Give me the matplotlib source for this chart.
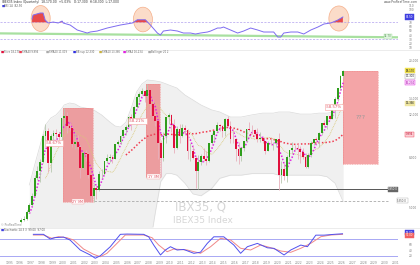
import numpy as np
import pandas as pd
import matplotlib
matplotlib.use("Agg")
import matplotlib.pyplot as plt
from matplotlib.patches import Rectangle, Ellipse
from matplotlib.lines import Line2D
from matplotlib.ticker import FixedLocator, FuncFormatter

plt.rcParams['font.family'] = ['DejaVu Sans']

# ------------------------------------------------------------------ data
start_year = 1996
first_open = 4380
closes = [4450, 4520, 4800, 5150, 5600, 6650, 7100, 7700, 9800, 10300, 7600, 9837,
          10100, 10000, 9700, 11641, 11900, 10800, 10650, 9110, 9300, 8900, 7300, 8397,
          8300, 6800, 5600, 6037, 5900, 6860, 6900, 7737, 8000, 8100, 7900, 9081,
          9300, 9800, 10400, 10733, 11800, 11500, 12900, 14146, 14600, 15000, 14300, 15182,
          13300, 11900, 11300, 9195, 8000, 9800, 11750, 11940, 10870, 8800, 10500, 9859,
          10580, 10360, 8550, 8566, 8000, 7100, 7700, 8167, 7920, 7760, 9190, 9917,
          10340, 10920, 10830, 10280, 11520, 10770, 9560, 9544, 8720, 8160, 8780, 9352,
          10460, 10440, 10380, 10043, 9600, 9620, 9390, 8540, 9240, 9200, 9240, 9549,
          6785, 7230, 6720, 8073, 8580, 8820, 8800, 8713, 8445, 8100, 7370, 8229,
          9230, 9590, 9430, 10102, 11075, 10940, 11880, 11595, 13135, 13990, 15475, 17300,
          18170]
highs = [4560, 4650, 4880, 5250, 5750, 6800, 7400, 7900, 10000, 10980, 10600, 10000,
         10450, 10500, 10200, 11700, 12816, 12300, 11200, 10800, 10100, 9900, 9000, 8500,
         8600, 8400, 6900, 6300, 6200, 7100, 7200, 7800, 8300, 8300, 8200, 9100,
         9500, 9950, 10500, 10900, 11900, 12100, 13000, 14300, 14900, 15500, 15200, 16040,
         15200, 14000, 12300, 11300, 9500, 10200, 11800, 12200, 12100, 11500, 10800, 11000,
         11000, 10900, 10500, 9200, 9000, 8200, 8200, 8300, 8800, 8500, 9200, 10100,
         10400, 11250, 11000, 10900, 11600, 11880, 11300, 10600, 9600, 9300, 8900, 9400,
         10500, 11180, 10900, 10500, 10600, 10200, 9800, 9400, 9400, 9550, 9300, 9600,
         10100, 7800, 7600, 8200, 8600, 9300, 9000, 9200, 8950, 8750, 8400, 8400,
         9400, 9600, 9700, 10200, 11100, 11400, 11900, 12000, 13350, 14200, 15500, 17400,
         18300]
lows = [4340, 4400, 4450, 4780, 5100, 5550, 6500, 6400, 7600, 9400, 7000, 7000,
        9300, 9600, 9200, 9400, 10900, 10100, 10300, 8900, 8700, 8700, 6600, 7200,
        7800, 6600, 5300, 5266, 5450, 5850, 6600, 6800, 7600, 7700, 7600, 7900,
        9000, 9100, 9700, 9900, 10700, 10400, 11300, 12800, 13600, 14500, 13500, 14000,
        12000, 11700, 10800, 7900, 6702, 7800, 9200, 11000, 10200, 8400, 8700, 9200,
        9700, 9900, 7900, 7800, 7900, 6000, 5950, 7500, 7800, 7500, 7700, 9100,
        9400, 10200, 10300, 9700, 9800, 10700, 9200, 9200, 7750, 7580, 7800, 8500,
        9300, 10300, 10000, 9950, 9300, 9300, 9200, 8300, 8500, 9000, 8600, 8900,
        5900, 6300, 6500, 6400, 7800, 8400, 8500, 7900, 7600, 7900, 7300, 7250,
        8100, 9000, 9100, 8900, 9900, 10700, 10500, 11500, 11500, 11600, 13700, 15200,
        17000]

# Bollinger-type envelope (year, value)
band_years = [1996.875, 1997.375, 1997.875, 1998.375, 1998.875, 1999.375, 1999.875, 2000.125,
              2000.625, 2001.125, 2001.625, 2002.125, 2002.875, 2003.625, 2004.375, 2004.875,
              2005.375, 2005.875, 2006.375, 2006.875, 2007.375, 2007.875, 2008.625, 2009.125,
              2009.625, 2010.125, 2010.625, 2011.375, 2012.125, 2012.875, 2013.875, 2014.625,
              2015.625, 2016.625, 2017.625, 2018.625, 2019.625, 2020.125, 2021.125, 2022.125,
              2023.125, 2023.875, 2024.625, 2025.375, 2026.125]
band_upper = [6200, 7500, 9000, 10900, 11650, 12000, 12700, 13170,
              13420, 13300, 12920, 12800, 12570, 11980, 11220, 10800,
              10700, 11200, 12800, 14900, 16060, 16670, 16520, 16360,
              16060, 15750, 15460, 14470, 13810, 13170, 12570, 12330,
              11760, 11760, 12000, 12200, 12200, 12330, 12330, 12090,
              12090, 12200, 12200, 12330, 12330]
band_lower = [3000, 3000, 3000, 3000, 3000, 3000, 3000, 3000,
              3000, 3000, 3000, 3000, 3000, 3000, 3000, 3000,
              3000, 3000, 3000, 3000, 3000, 3000, 4800, 6400,
              6900, 6900, 6800, 6300, 5700, 5600, 6000, 6600,
              6800, 6800, 6900, 6900, 6900, 6800, 6800, 6800,
              6800, 6800, 6700, 6300, 5300]

support_level = 5950
prior_low_level = 5350

dd_start = [2000.0, 2007.78, 2026.1]
dd_end = [2002.77, 2009.09, 2029.37]
dd_top = [12816, 16040, 18170]
dd_pct = [58.67, 58.21, 58.57]
dd_duration = ["2Y 9M", "1Y 3M", ""]
pct_label_year = [1999.2, 2006.95, 2025.25]
pct_label_value = [9180, 11340, 12900]

rsi_years = [1997.13, 1997.22, 1997.88, 1998.16, 1998.35, 1998.63, 1999.1, 1999.56, 1999.93,
             2000.03, 2000.68, 2001.34, 2002.27, 2002.55, 2003.2, 2004.14, 2005.35, 2006.48,
             2006.94, 2007.69, 2008.16, 2008.81, 2009.09, 2009.37, 2010.03, 2010.68, 2011.24,
             2011.9, 2012.36, 2012.83, 2013.48, 2013.77, 2014.42, 2014.7, 2014.98, 2015.63,
             2016.29, 2016.85, 2017.5, 2018.16, 2018.72, 2019.19, 2019.65, 2020.03, 2020.31,
             2020.59, 2021.25, 2021.9, 2022.46, 2023.11, 2023.77, 2024.33, 2024.98, 2025.63,
             2026.1]
rsi_vals = [77.8, 87, 91.9, 91.9, 75.4, 68.4, 70.7, 68.4, 73,
            68.4, 63.6, 51.9, 44.8, 47.2, 49.5, 56.6, 63.6, 68.4,
            76, 76, 63.6, 44.8, 40.1, 49.5, 51.9, 49.5, 44.8,
            44.8, 42.5, 44.8, 47.2, 49.5, 56.6, 56.6, 58.9, 51.9,
            44.8, 49.5, 56.6, 51.9, 47.2, 47.2, 47.2, 35.4, 35.4,
            44.8, 47.2, 47.2, 42.5, 51.9, 58.9, 66, 68.4, 75.4,
            82.5]
rsi_trend = [44.0, 34.7]
rsi_highlight = [(1997.93, 79, 1.78, 61), (2007.46, 76.6, 1.78, 58), (2025.73, 79, 1.87, 59)]

sto_k_years = [1997.25, 1998.19, 1998.81, 1999.28, 2000.06, 2000.68, 2001.62, 2002.55, 2003.02,
               2003.49, 2004.42, 2005.36, 2005.98, 2007.53, 2008.0, 2008.47, 2009.1, 2009.56,
               2010.03, 2010.65, 2011.27, 2012.21, 2012.83, 2013.46, 2014.07, 2015.0, 2015.94,
               2016.57, 2017.2, 2018.13, 2019.07, 2019.68, 2020.62, 2021.24, 2022.18, 2022.8,
               2023.58, 2024.36, 2025.29, 2026.07]
sto_k = [97, 97, 80, 85, 87, 76, 40, 22, 10,
         19, 52, 97, 98, 97, 88, 58, 22, 40,
         52, 40, 42, 28, 32, 64, 88, 88, 58,
         28, 52, 64, 48, 46, 22, 40, 58, 52,
         94, 94, 97, 99]
sto_d_years = [1997.25, 1998.19, 1998.97, 1999.59, 2000.37, 2000.99, 2001.93, 2002.86, 2003.49,
               2004.11, 2005.05, 2005.82, 2007.53, 2008.32, 2008.93, 2009.72, 2010.34, 2011.59,
               2012.83, 2013.77, 2014.7, 2015.64, 2016.57, 2017.5, 2018.44, 2019.37, 2020.31,
               2021.24, 2022.18, 2023.11, 2024.05, 2024.98, 2026.07]
sto_d = [94.5, 94.5, 82.5, 88.4, 84.7, 76.4, 43.6, 24.4, 15.6,
         28, 64.4, 94.5, 94.5, 84.7, 58.2, 33.8, 43.6, 40,
         28, 52, 82.5, 76.4, 46.2, 40, 58.2, 48.4, 36.4,
         31.6, 46.2, 64.4, 88.4, 94.5, 97]

year_ticks = list(range(1995, 2032))
main_ticks = [5000, 6000, 8000, 10000, 12000, 14000, 16000, 18000, 20000]
rsi_ticks = list(range(10, 111, 10))
sto_ticks = [20, 40, 60, 80, 100]

# ------------------------------------------------------------------ derived
n = len(closes)
qx = start_year + np.arange(n) * 0.25 + 0.125
opens = [first_open] + closes[:-1]
s = pd.Series(closes, dtype=float)
sma4 = s.rolling(4).mean()
sma10 = s.rolling(10).mean()
sma20 = s.rolling(20).mean()
sma40 = s.rolling(40).mean()

# ------------------------------------------------------------------ figure
W, H = 420, 265
fig = plt.figure(figsize=(W / 100, H / 100), dpi=100)
fig.patch.set_facecolor('white')


def rect(x0, y0, x1, y1):
    return [x0 / W, 1 - y1 / H, (x1 - x0) / W, (y1 - y0) / H]


ax_rsi = fig.add_axes(rect(0, 2, 398, 48.5))
ax = fig.add_axes(rect(0, 54, 398, 227))
ax_sto = fig.add_axes(rect(0, 228, 398, 259))
XL = (1994.14, 2031.24)
for a in (ax_rsi, ax, ax_sto):
    a.set_xlim(*XL)
    for sp in a.spines.values():
        sp.set_visible(False)
    a.yaxis.tick_right()
    a.tick_params(axis='y', length=0, labelsize=2.1, labelcolor='#777777', pad=8)
    a.tick_params(axis='x', length=0, labelsize=2.2, labelcolor='#888888', pad=1.5)
    a.set_xticks(year_ticks)
    a.set_facecolor('none')
ax_rsi.set_xticklabels([])
ax.set_xticklabels([])
ax_sto.set_xticklabels([str(y) for y in year_ticks])

for yy in (49.5, 227.5):
    fig.add_artist(Line2D([0, 1], [1 - yy / H] * 2, color='#e4e4e4', lw=0.5))

# ------------------------------------------------------------------ main panel
ax.set_yscale('log')
ax.set_ylim(4173, 21290)
main_boxes = [closes[-1], closes[-2], sma4.iloc[-1], sma10.iloc[-1], sma40.iloc[-1],
              support_level, prior_low_level]
px_per_decade = 173 / np.log10(21290 / 4173)
main_ticks_vis = [t for t in main_ticks
                  if min(abs(np.log10(t / b)) * px_per_decade for b in main_boxes) > 4]
ax.yaxis.set_major_locator(FixedLocator(main_ticks_vis))
ax.yaxis.set_minor_locator(FixedLocator([]))
ax.yaxis.set_major_formatter(FuncFormatter(lambda v, p: f"{v:,.0f}"))

# watermark
ax.text(0.505, 0.116, "IBX35, Q", transform=ax.transAxes, fontsize=8.5, color='#d6d6d6',
        ha='center', va='center', zorder=0)
ax.text(0.51, 0.040, "IBEX35 Index", transform=ax.transAxes, fontsize=6.5, color='#d6d6d6',
        ha='center', va='center', zorder=0)

# band
ax.fill_between(band_years, band_lower, band_upper, color='#f0f0f0', lw=0, zorder=0.5)
ax.plot(band_years, band_upper, color='#dadada', lw=0.5, zorder=0.6)
ax.plot(band_years, band_lower, color='#dadada', lw=0.5, zorder=0.6)

# drawdown boxes
for x0, x1, top, pct, dur in zip(dd_start, dd_end, dd_top, dd_pct, dd_duration):
    bot = top * (1 - pct / 100)
    ax.add_patch(Rectangle((x0, bot), x1 - x0, top - bot, facecolor='#e8383d', alpha=0.45,
                           edgecolor='none', zorder=1))
    ax.add_patch(Rectangle((x0, bot), x1 - x0, top - bot, facecolor='none',
                           edgecolor='#f08a8a', lw=0.4, ls=(0, (2, 1)), zorder=1.1))
    if dur:
        ax.text((x0 + x1) / 2, bot, dur, fontsize=2.6, color='#e05060', ha='center', va='center',
                zorder=6, bbox=dict(boxstyle='square,pad=0.2', fc='white', ec='#f4a0a0', lw=0.3))
ax.text((dd_start[2] + dd_end[2]) / 2, np.sqrt(dd_top[2] * dd_top[2] * (1 - dd_pct[2] / 100)),
        "???", fontsize=4.5, color='#999999', ha='center', va='center', zorder=6)
for xx, vv, pct in zip(pct_label_year, pct_label_value, dd_pct):
    ax.text(xx, vv, f"-{pct:.2f}%", fontsize=2.8, color='#e05060', ha='center', va='center',
            zorder=6, bbox=dict(boxstyle='square,pad=0.25', fc='white', ec='#f4a0a0', lw=0.4))

# support lines
ax.plot([2002.9, XL[1]], [support_level] * 2, color='#555555', lw=0.7, zorder=2)
ax.plot([2002.9, 2030.3], [prior_low_level] * 2, color='#aaaaaa', lw=0.6, ls=(0, (3, 2)), zorder=2)

# moving averages
ax.plot(qx, sma40, color='#f03c50', lw=1.1, ls=(0, (1, 1.3)), zorder=3)
ax.plot(qx, sma10, color='#d8c878', lw=0.6, ls=(0, (1, 1)), zorder=3)
ax.plot(qx, sma4, color='#e020e0', lw=1.1, ls=(0, (1, 1.2)), zorder=4)

# candles
up = np.array(closes) >= np.array(opens)
body_lo = np.minimum(opens, closes)
body_h = np.abs(np.array(closes) - np.array(opens))
wick_col = np.where(up, '#b8c8b0', '#e8b0bc')
ax.vlines(qx, lows, highs, colors=wick_col, lw=0.6, zorder=4.5)
ax.bar(qx, body_h, bottom=body_lo, width=0.17, color=np.where(up, '#2f9e1c', '#e0103c'),
       edgecolor='none', zorder=5)


# right-side value boxes
def vbox(a, y, txt, fc, tc='#222222', ec=None, x=1.0, dx=5.5, size=1.9):
    a.annotate(txt, xy=(x, y), xycoords=('axes fraction', 'data'), xytext=(dx, 0),
               textcoords='offset points', fontsize=size, color=tc, va='center', ha='left',
               annotation_clip=False, zorder=10,
               bbox=dict(boxstyle='square,pad=0.2', fc=fc, ec=ec or fc, lw=0.3))


vbox(ax, closes[-1], f"{closes[-1]:,.0f}", '#f0e04c')
vbox(ax, closes[-2], f"{closes[-2]:,.0f}", 'white', ec='#999999')
vbox(ax, sma4.iloc[-1], f"{sma4.iloc[-1]:,.0f}", '#f7d8f7', tc='#b010b0', ec='#e020e0')
vbox(ax, sma10.iloc[-1], f"{sma10.iloc[-1]:,.0f}", '#efe6a0')
vbox(ax, sma40.iloc[-1], f"{sma40.iloc[-1]:,.0f}", '#fbd0d6', tc='#c01030', ec='#f03c50')
vbox(ax, support_level, f"{support_level:,.1f}", '#666666', tc='white', x=0.975, dx=0)
vbox(ax, prior_low_level, f"{prior_low_level:,.1f}", 'white', tc='#555555', ec='#aaaaaa', x=0.998, dx=0)

# ------------------------------------------------------------------ RSI panel
ax_rsi.set_ylim(8.4, 117.8)
ax_rsi.yaxis.set_major_locator(FixedLocator([t for t in rsi_ticks if abs(t - rsi_vals[-1]) > 9.5]))
for (cx, cy, w, h) in rsi_highlight:
    ax_rsi.add_patch(Ellipse((cx, cy), w, h, facecolor='#fbd6c0', edgecolor='#f4a47a', lw=0.5,
                             alpha=0.85, zorder=1))
for lvl in (70, 30):
    ax_rsi.axhline(lvl, color='#b0a0ee', lw=0.5, ls=(0, (3, 2)), zorder=1.5)
ax_rsi.plot(XL, rsi_trend, color='#a8e0a0', lw=1.6, zorder=1.6)
rv = np.array(rsi_vals)
ax_rsi.fill_between(rsi_years, rv, 70, where=rv > 70, interpolate=True, color='#e84848', lw=0,
                    zorder=2)
ax_rsi.plot(rsi_years, rsi_vals, color='#7e6cf0', lw=0.7, zorder=3)
vbox(ax_rsi, rsi_vals[-1], f"{rsi_vals[-1]:.2f}", '#4040e0', tc='white')
ax_rsi.text(0.985, rsi_trend[1] + 2.5, f"{rsi_trend[1]:.2f}", transform=ax_rsi.get_yaxis_transform(),
            fontsize=2.0, color='#60a060', ha='right', va='center',
            bbox=dict(boxstyle='square,pad=0.15', fc='#e0f4e0', ec='#a8e0a0', lw=0.3))

# ------------------------------------------------------------------ stochastic panel
ax_sto.set_ylim(7.3, 120)
sto_box_y = [sto_k[-1] + 4, sto_d[-1] - 4]
ax_sto.yaxis.set_major_locator(FixedLocator([t for t in sto_ticks
                                             if min(abs(t - b) for b in sto_box_y) > 14]))
for lvl in (80, 20):
    ax_sto.axhline(lvl, color='#a8a8f4', lw=0.7, zorder=1)
ax_sto.plot(sto_d_years, sto_d, color='#f08888', lw=0.7, zorder=2)
ax_sto.plot(sto_k_years, sto_k, color='#5050ee', lw=0.7, zorder=3)
vbox(ax_sto, sto_box_y[0], f"{sto_k[-1]:.2f}", '#4040e0', tc='white')
vbox(ax_sto, sto_box_y[1], f"{sto_d[-1]:.2f}", '#f06060', tc='white')


# ------------------------------------------------------------------ header texts
def ftxt(x, y, s, c='#444444', size=2.2, **kw):
    fig.text(x / W, 1 - y / H, s, color=c, fontsize=size, va='center', ha=kw.pop('ha', 'left'), **kw)


ftxt(2, 2.2, f"IBEX35 Index (Quarterly)  {closes[-1]:,.2f}  +5.03%   O:{opens[-1]:,.0f}  H:{highs[-1]:,.0f}  L:{lows[-1]:,.0f}", '#333333')
ftxt(418, 2.2, "www.ProRealTime.com", '#555555', ha='right')
ftxt(2, 6.3, "\u25a0", '#4040e0', size=2.4)
ftxt(4.5, 6.3, f"RSI 14  {rsi_vals[-1]:.2f}", '#555555', size=2.0)

legend_items = [(1, "Price", f"{closes[-1]:,.0f}", '#e0103c'),
                (19, "SMA40", f"{sma40.iloc[-1]:,.0f}", '#f03c50'),
                (46, "SMA20", f"{sma20.iloc[-1]:,.0f}", '#aaaaaa'),
                (73, "BB sup", f"{band_upper[-1]:,.0f}", '#3030e0'),
                (99, "SMA10", f"{sma10.iloc[-1]:,.0f}", '#c8b040'),
                (123, "SMA4", f"{sma4.iloc[-1]:,.0f}", '#e020e0'),
                (148, "Bollinger", "20 2", '#aaaaaa')]
for x, name, val, col in legend_items:
    ftxt(x, 51.8, "\u25a0", col, size=2.4)
    ftxt(x + 2.6, 51.8, f"{name} {val}", '#666666', size=1.8)

ftxt(1, 224.5, "\u00a9 ProRealTime", '#888888', size=2.0)
ftxt(1, 229.8, "\u25a0", '#4040e0', size=2.4)
ftxt(3.6, 229.8, f"Stochastic 14 3 3  {sto_k[-1]:.2f}  {sto_d[-1]:.2f}", '#555555', size=1.9)

fig.savefig("out.png", dpi=100, facecolor='white')
